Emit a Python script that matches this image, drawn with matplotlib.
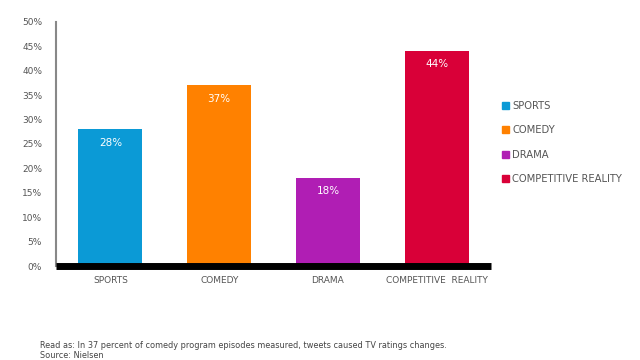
import matplotlib.pyplot as plt
from matplotlib.patches import Patch

categories = ["SPORTS", "COMEDY", "DRAMA", "COMPETITIVE  REALITY"]
legend_names = ["SPORTS", "COMEDY", "DRAMA", "COMPETITIVE REALITY"]
values = [28, 37, 18, 44]
colors = ["#0b9ad6", "#ff8100", "#b01eb4", "#d90038"]
yticks = list(range(0, 51, 5))

fig = plt.figure(figsize=(6.4, 3.6), dpi=100)
ax = fig.add_axes([0.0875, 0.261, 0.680, 0.678])

x = range(len(categories))
bars = ax.bar(x, values, width=0.59, color=colors, zorder=2)

for xi, v in zip(x, values):
    ax.text(xi, v - 2.7, f"{v}%", ha="center", va="center",
            color="white", fontsize=7.5, zorder=3)

ax.set_xlim(-0.5, 3.5)
ax.set_ylim(0, 50)
ax.set_yticks(yticks)
ax.set_yticklabels([f"{t}%" for t in yticks], fontsize=6.5, color="#555555")
ax.set_xticks(list(x))
ax.set_xticklabels(categories, fontsize=6.5, color="#555555")
ax.tick_params(axis="both", length=0, pad=7)
ax.tick_params(axis="y", pad=10)

for s in ["top", "right"]:
    ax.spines[s].set_visible(False)
ax.spines["left"].set_color("#888888")
ax.spines["left"].set_linewidth(1.5)
ax.spines["bottom"].set_color("black")
ax.spines["bottom"].set_linewidth(5)
ax.spines["bottom"].set_capstyle("butt")
ax.spines["bottom"].set_zorder(4)

handles = [Patch(color=c, label=n) for c, n in zip(colors, legend_names)]
fig.legend(handles=handles, loc="upper left", bbox_to_anchor=(0.77, 0.745),
           frameon=False, fontsize=7.2, handlelength=0.7, handleheight=0.7,
           handletextpad=0.35, labelspacing=1.45, labelcolor="#555555")

fig.text(0.062, 0.033, "Read as: In 37 percent of comedy program episodes measured, tweets caused TV ratings changes.",
         fontsize=5.9, color="#444444")
fig.text(0.062, 0.005, "Source: Nielsen", fontsize=5.9, color="#444444")

fig.savefig("out.png", dpi=100)
